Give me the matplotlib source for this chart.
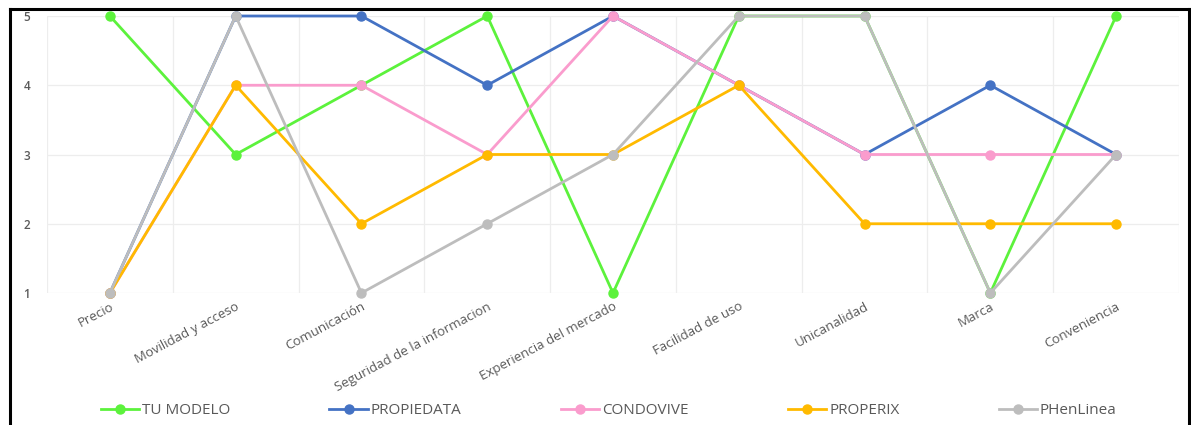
import matplotlib.pyplot as plt
import numpy as np
from matplotlib.lines import Line2D

plt.rcParams['font.family'] = ['Open Sans', 'DejaVu Sans']

categorias = ["Precio", "Movilidad y acceso", "Comunicación",
              "Seguridad de la informacion", "Experiencia del mercado",
              "Facilidad de uso", "Unicanalidad", "Marca", "Conveniencia"]

tu_modelo = [5, 3, 4, 5, 1, 5, 5, 1, 5]
propiedata = [1, 5, 5, 4, 5, 4, 3, 4, 3]
condovive = [1, 4, 4, 3, 5, 4, 3, 3, 3]
properix = [1, 4, 2, 3, 3, 4, 2, 2, 2]
phenlinea = [1, 5, 1, 2, 3, 5, 5, 1, 3]

series = [
    ("TU MODELO", tu_modelo, "#5CF23C"),
    ("PROPIEDATA", propiedata, "#4472C4"),
    ("CONDOVIVE", condovive, "#FA9CCD"),
    ("PROPERIX", properix, "#FFBA00"),
    ("PHenLinea", phenlinea, "#BDBDBD"),
]

fig = plt.figure(figsize=(11.91, 4.25), dpi=100)
ax = fig.add_axes([47 / 1191, 1 - 293 / 425, (1179 - 47) / 1191, (293 - 16) / 425])

x = np.arange(len(categorias))
for i, (nombre, vals, color) in enumerate(series):
    ax.plot(x, vals, color=color, lw=2, marker='o', markersize=6.5,
            label=nombre, clip_on=False, zorder=3 + i)

ax.set_xlim(-0.5, len(categorias) - 0.5)
ax.set_ylim(1, 5)
ax.set_yticks([1, 2, 3, 4, 5])
ax.set_xticks(x)
ax.set_xticks(np.arange(-0.5, len(categorias), 1), minor=True)
ax.set_xticklabels(categorias, rotation=28, ha='right', va='top',
                   rotation_mode='anchor', fontsize=9.5, color='#595959')
for lab in ax.get_yticklabels():
    lab.set_fontweight('semibold')
ax.tick_params(axis='y', length=0, pad=12, labelsize=8.5, labelcolor='#595959')
ax.tick_params(axis='x', which='both', length=0, pad=5)
ax.grid(axis='y', which='major', color='#EDEDED', lw=0.9)
ax.grid(axis='x', which='minor', color='#EDEDED', lw=0.9)
for s in ax.spines.values():
    s.set_visible(False)

leg = fig.legend(loc='center', bbox_to_anchor=(0.511, 1 - 411 / 425), ncol=5,
                 frameon=False, fontsize=11, handlelength=2.5,
                 handletextpad=0.2, columnspacing=6.5)
for t in leg.get_texts():
    t.set_color('#595959')

# marco negro alrededor del grafico
fig.add_artist(Line2D([10 / 1191, 10 / 1191], [0, 1 - 9 / 425], color='black', lw=2.2, transform=fig.transFigure))
fig.add_artist(Line2D([10 / 1191, 1189 / 1191], [1 - 9 / 425, 1 - 9 / 425], color='black', lw=2.2, transform=fig.transFigure))
fig.add_artist(Line2D([1189 / 1191, 1189 / 1191], [0, 1 - 9 / 425], color='black', lw=2.2, transform=fig.transFigure))

fig.savefig("out.png", dpi=100)
